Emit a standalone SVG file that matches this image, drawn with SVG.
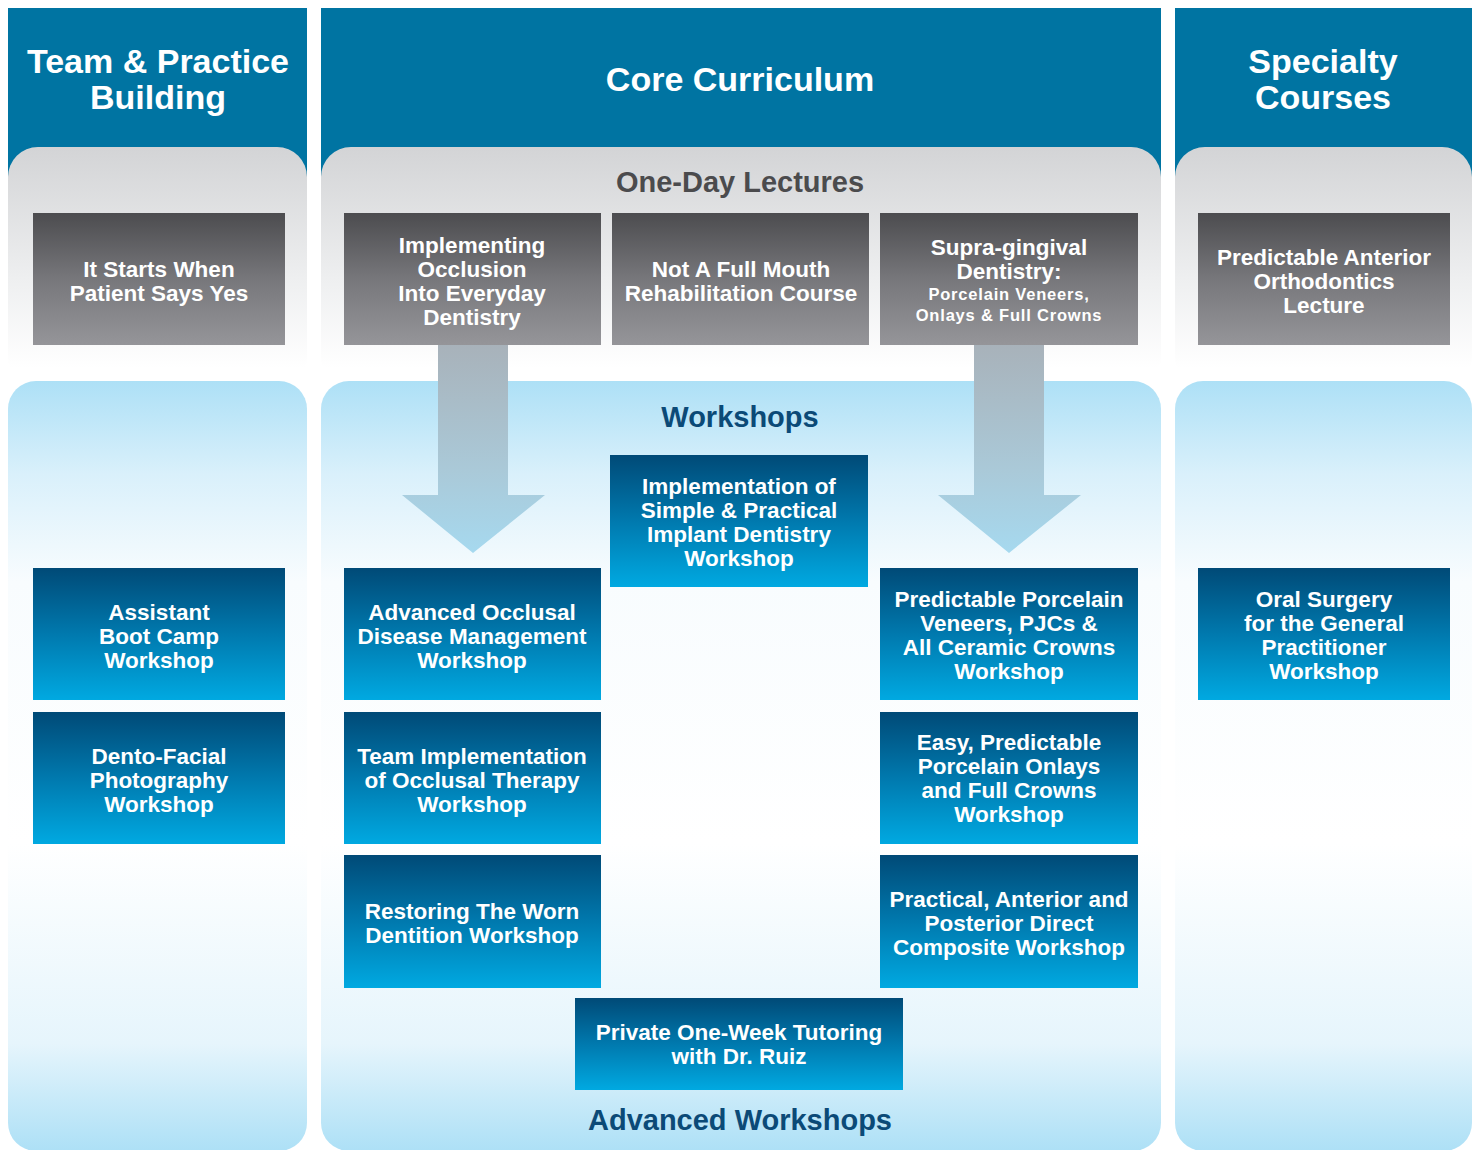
<svg xmlns="http://www.w3.org/2000/svg" width="1475" height="1150" viewBox="0 0 1475 1150">
<defs>
<linearGradient id="gPanel" x1="0" y1="0" x2="0" y2="1">
<stop offset="0" stop-color="#d3d4d6"/>
<stop offset="0.55" stop-color="#eeeff0"/>
<stop offset="0.92" stop-color="#ffffff"/>
</linearGradient>
<linearGradient id="bPanel" x1="0" y1="0" x2="0" y2="1">
<stop offset="0" stop-color="#ade0f6"/>
<stop offset="0.12" stop-color="#d9f0fb"/>
<stop offset="0.26" stop-color="#f8fcfe"/>
<stop offset="0.6" stop-color="#ffffff"/>
<stop offset="0.86" stop-color="#e6f5fc"/>
<stop offset="1" stop-color="#ade0f6"/>
</linearGradient>
<linearGradient id="gBox" x1="0" y1="0" x2="0" y2="1">
<stop offset="0" stop-color="#4c4c4f"/>
<stop offset="0.5" stop-color="#77777b"/>
<stop offset="1" stop-color="#959599"/>
</linearGradient>
<linearGradient id="bBox" x1="0" y1="0" x2="0" y2="1">
<stop offset="0" stop-color="#004a77"/>
<stop offset="0.5" stop-color="#0079ae"/>
<stop offset="1" stop-color="#00a9e1"/>
</linearGradient>
<linearGradient id="arrowG" gradientUnits="userSpaceOnUse" x1="0" y1="345" x2="0" y2="553">
<stop offset="0" stop-color="#a8b2ba"/>
<stop offset="0.6" stop-color="#aac9d8"/>
<stop offset="1" stop-color="#a6d9ef"/>
</linearGradient>
</defs>
<style>
text{font-family:"Liberation Sans",Arial,Helvetica,sans-serif;font-weight:bold;text-anchor:middle}
.hdr{fill:#0074a2}
.head{fill:#ffffff;font-size:34px}
.sec{font-size:29px}
.gray{fill:#4b4b4d}
.navy{fill:#0b4a77}
.gb{fill:url(#gBox)}
.bb{fill:url(#bBox)}
.t{fill:#ffffff;font-size:22.5px}
.s{fill:#ffffff;font-size:16.5px;letter-spacing:0.8px}
.gp{fill:url(#gPanel)}
.bp{fill:url(#bPanel)}
.arr{fill:url(#arrowG)}
</style>
<rect width="1475" height="1150" fill="#ffffff"/>

<!-- columns -->
<g id="col-team">
<rect class="hdr" x="8" y="8" width="299" height="180"/>
<rect class="gp" x="8" y="147" width="299" height="240" rx="30"/>
<rect class="bp" x="8" y="381" width="299" height="770" rx="28"/>
<text class="head" x="158" y="73">Team &amp; Practice</text>
<text class="head" x="158" y="109">Building</text>
</g>
<g id="col-core">
<rect class="hdr" x="321" y="8" width="840" height="180"/>
<rect class="gp" x="321" y="147" width="840" height="240" rx="30"/>
<rect class="bp" x="321" y="381" width="840" height="770" rx="28"/>
<text class="head" x="740" y="91">Core Curriculum</text>
<text class="sec gray" x="740" y="192">One-Day Lectures</text>
<text class="sec navy" x="740" y="427">Workshops</text>
<text class="sec navy" x="740" y="1130">Advanced Workshops</text>
</g>
<g id="col-specialty">
<rect class="hdr" x="1175" y="8" width="297" height="180"/>
<rect class="gp" x="1175" y="147" width="297" height="240" rx="30"/>
<rect class="bp" x="1175" y="381" width="297" height="770" rx="28"/>
<text class="head" x="1323" y="73">Specialty</text>
<text class="head" x="1323" y="109">Courses</text>
</g>

<!-- connectors -->
<g id="connectors">
<path class="arr" d="M438,345 L508,345 L508,495 L545,495 L473,553 L402,495 L438,495 Z"/>
<path class="arr" d="M974,345 L1044,345 L1044,495 L1081,495 L1009,553 L938,495 L974,495 Z"/>
</g>

<!-- lecture nodes -->
<g id="n-starts">
<rect class="gb" x="33" y="213" width="252" height="132"/>
<text class="t" x="159" y="277">It Starts When</text>
<text class="t" x="159" y="301">Patient Says Yes</text>
</g>
<g id="n-implementing">
<rect class="gb" x="344" y="213" width="257" height="132"/>
<text class="t" x="472" y="253">Implementing</text>
<text class="t" x="472" y="277">Occlusion</text>
<text class="t" x="472" y="301">Into Everyday</text>
<text class="t" x="472" y="325">Dentistry</text>
</g>
<g id="n-notfull">
<rect class="gb" x="612" y="213" width="257" height="132"/>
<text class="t" x="741" y="277">Not A Full Mouth</text>
<text class="t" x="741" y="301">Rehabilitation Course</text>
</g>
<g id="n-supra">
<rect class="gb" x="880" y="213" width="258" height="132"/>
<text class="t" x="1009" y="255">Supra-gingival</text>
<text class="t" x="1009" y="279">Dentistry:</text>
<text class="s" x="1009" y="300">Porcelain Veneers,</text>
<text class="s" x="1009" y="321">Onlays &amp; Full Crowns</text>
</g>
<g id="n-ortho">
<rect class="gb" x="1198" y="213" width="252" height="132"/>
<text class="t" x="1324" y="265">Predictable Anterior</text>
<text class="t" x="1324" y="289">Orthodontics</text>
<text class="t" x="1324" y="313">Lecture</text>
</g>

<!-- workshop nodes -->
<g id="n-assistant">
<rect class="bb" x="33" y="568" width="252" height="132"/>
<text class="t" x="159" y="620">Assistant</text>
<text class="t" x="159" y="644">Boot Camp</text>
<text class="t" x="159" y="668">Workshop</text>
</g>
<g id="n-dento">
<rect class="bb" x="33" y="712" width="252" height="132"/>
<text class="t" x="159" y="764">Dento-Facial</text>
<text class="t" x="159" y="788">Photography</text>
<text class="t" x="159" y="812">Workshop</text>
</g>
<g id="n-implant">
<rect class="bb" x="610" y="455" width="258" height="132"/>
<text class="t" x="739" y="494">Implementation of</text>
<text class="t" x="739" y="518">Simple &amp; Practical</text>
<text class="t" x="739" y="542">Implant Dentistry</text>
<text class="t" x="739" y="566">Workshop</text>
</g>
<g id="n-advocc">
<rect class="bb" x="344" y="568" width="257" height="132"/>
<text class="t" x="472" y="620">Advanced Occlusal</text>
<text class="t" x="472" y="644">Disease Management</text>
<text class="t" x="472" y="668">Workshop</text>
</g>
<g id="n-teamocc">
<rect class="bb" x="344" y="712" width="257" height="132"/>
<text class="t" x="472" y="764">Team Implementation</text>
<text class="t" x="472" y="788">of Occlusal Therapy</text>
<text class="t" x="472" y="812">Workshop</text>
</g>
<g id="n-worn">
<rect class="bb" x="344" y="855" width="257" height="133"/>
<text class="t" x="472" y="919">Restoring The Worn</text>
<text class="t" x="472" y="943">Dentition Workshop</text>
</g>
<g id="n-veneers">
<rect class="bb" x="880" y="568" width="258" height="132"/>
<text class="t" x="1009" y="607">Predictable Porcelain</text>
<text class="t" x="1009" y="631">Veneers, PJCs &amp;</text>
<text class="t" x="1009" y="655">All Ceramic Crowns</text>
<text class="t" x="1009" y="679">Workshop</text>
</g>
<g id="n-onlays">
<rect class="bb" x="880" y="712" width="258" height="132"/>
<text class="t" x="1009" y="750">Easy, Predictable</text>
<text class="t" x="1009" y="774">Porcelain Onlays</text>
<text class="t" x="1009" y="798">and Full Crowns</text>
<text class="t" x="1009" y="822">Workshop</text>
</g>
<g id="n-composite">
<rect class="bb" x="880" y="855" width="258" height="133"/>
<text class="t" x="1009" y="907">Practical, Anterior and</text>
<text class="t" x="1009" y="931">Posterior Direct</text>
<text class="t" x="1009" y="955">Composite Workshop</text>
</g>
<g id="n-oral">
<rect class="bb" x="1198" y="568" width="252" height="132"/>
<text class="t" x="1324" y="607">Oral Surgery</text>
<text class="t" x="1324" y="631">for the General</text>
<text class="t" x="1324" y="655">Practitioner</text>
<text class="t" x="1324" y="679">Workshop</text>
</g>
<g id="n-private">
<rect class="bb" x="575" y="998" width="328" height="92"/>
<text class="t" x="739" y="1040">Private One-Week Tutoring</text>
<text class="t" x="739" y="1064">with Dr. Ruiz</text>
</g>
</svg>
